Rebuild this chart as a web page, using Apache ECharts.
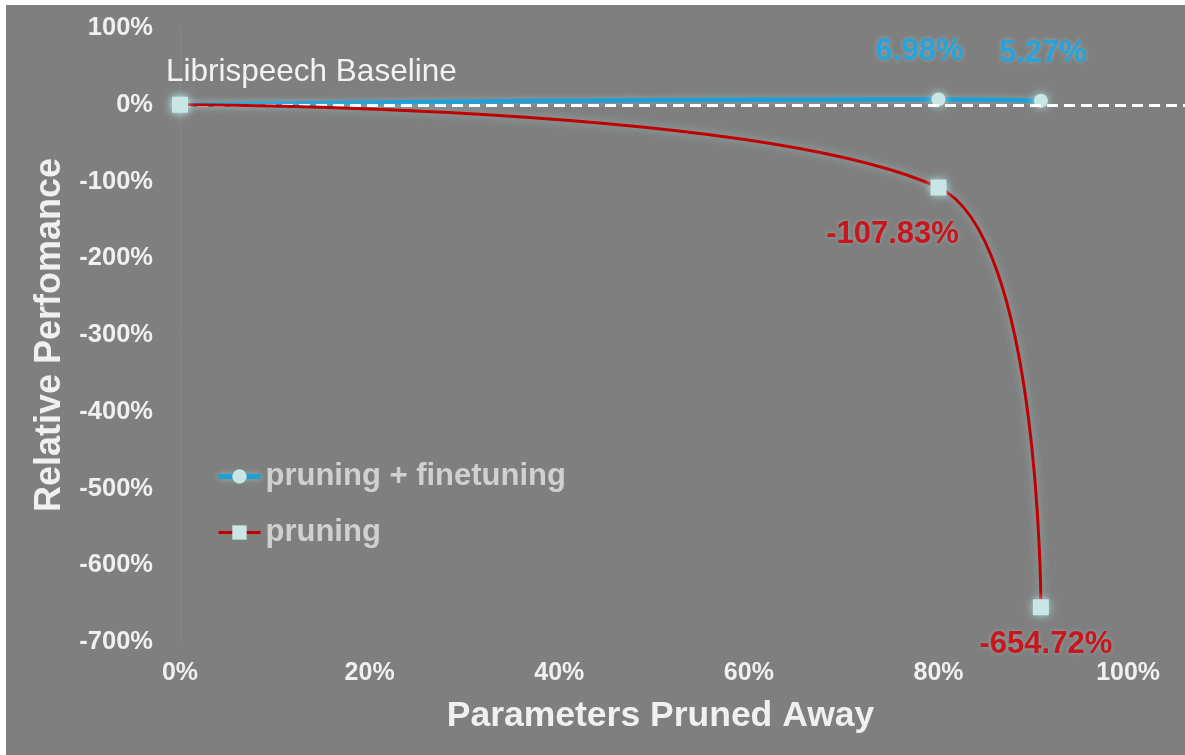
<!DOCTYPE html>
<html>
<head>
<meta charset="utf-8">
<script src="https://cdn.jsdelivr.net/npm/echarts@6/dist/echarts.min.js"></script>
<style>
  html, body { margin: 0; padding: 0; background: #ffffff; width: 1185px; height: 755px; overflow: hidden; }
  #chart { position: absolute; left: 6px; top: 5px; width: 1179px; height: 750px; background: #7f7f7f; }
</style>
</head>
<body>
<div id="chart"></div>
<script>
// Share of parameters pruned away (x) and relative performance (y)
const prunedShare = [0, 0.8, 0.908];
const finetuneValues = [0, 0.0698, 0.0527];
const pruningValues = [0, -1.0783, -6.5472];
const xTicks = [0, 0.2, 0.4, 0.6, 0.8, 1.0];
const yTicks = [1, 0, -1, -2, -3, -4, -5, -6, -7];
const seriesNames = ['pruning + finetuning', 'pruning'];
const baselineLabel = 'Librispeech Baseline';

const FONT = '"Liberation Sans", Arial, sans-serif';
const pct = v => Math.round(v * 100) + '%';
const pct2 = v => (v * 100).toFixed(2) + '%';

const BLUE = '#1f9fd8';
const RED = '#c00000';
const MARK = '#c8e6e4';

const glowLine = { shadowBlur: 8, shadowColor: 'rgba(190,240,240,0.5)' };
const glowMark = { shadowBlur: 10, shadowColor: 'rgba(190,245,245,0.8)' };

// label styling per point (first point carries no label)
const finetuneLabelOffsets = [null, [-19, 0], [2, 0]];
const pruningLabel = [
  null,
  { position: 'bottom', distance: 23, offset: [-46, 0] },
  { position: 'bottom', distance: 14, offset: [5, 0] }
];

const finetuneData = prunedShare.map((x, i) => {
  const item = { value: [x, finetuneValues[i]] };
  if (finetuneLabelOffsets[i]) {
    item.label = {
      show: true, position: 'top', distance: 25, offset: finetuneLabelOffsets[i],
      formatter: () => pct2(finetuneValues[i]),
      color: '#27a2da', fontFamily: FONT, fontSize: 31, fontWeight: 'bold',
      textShadowBlur: 4, textShadowColor: 'rgba(200,240,240,0.35)'
    };
  }
  return item;
});

const pruningData = prunedShare.map((x, i) => {
  const item = { value: [x, pruningValues[i]] };
  if (pruningLabel[i]) {
    item.label = Object.assign({
      show: true,
      formatter: () => pct2(pruningValues[i]),
      color: '#c8161e', fontFamily: FONT, fontSize: 31, fontWeight: 'bold',
      textShadowBlur: 4, textShadowColor: 'rgba(200,240,240,0.35)'
    }, pruningLabel[i]);
  }
  return item;
});

const chart = echarts.init(document.getElementById('chart'), null, { renderer: 'canvas' });

chart.setOption({
  backgroundColor: '#7f7f7f',
  animation: false,
  grid: { left: 174, right: 0, top: 23, bottom: 113, containLabel: false },
  legend: {
    orient: 'vertical',
    left: 210,
    top: 456,
    padding: 0,
    itemGap: 25,
    itemWidth: 42,
    itemHeight: 18,
    data: [
      {
        name: seriesNames[0],
        lineStyle: { color: BLUE, width: 5, shadowBlur: 6, shadowColor: 'rgba(190,240,240,0.5)' },
        itemStyle: { color: MARK }
      },
      {
        name: seriesNames[1],
        lineStyle: { color: RED, width: 3 },
        itemStyle: { color: MARK }
      }
    ],
    textStyle: { color: '#d0d0d0', fontFamily: FONT, fontSize: 31, fontWeight: 'bold' }
  },
  xAxis: {
    type: 'value',
    min: 0,
    max: 1.06,
    interval: 0.2,
    name: 'Parameters Pruned Away',
    nameLocation: 'middle',
    nameGap: 56,
    nameTextStyle: { color: '#f0f0f0', fontFamily: FONT, fontSize: 35.5, fontWeight: 'bold', padding: [0, 44, 0, 0] },
    axisLine: { show: false },
    axisTick: { show: false },
    splitLine: { show: false },
    axisLabel: {
      showMaxLabel: false,
      margin: 19,
      color: '#f0f0f0', fontFamily: FONT, fontSize: 25, fontWeight: 'bold',
      formatter: v => (xTicks.some(t => Math.abs(t - v) < 1e-6) ? pct(v) : '')
    }
  },
  yAxis: {
    type: 'value',
    min: -7,
    max: 1,
    interval: 1,
    name: 'Relative Perfomance',
    nameLocation: 'middle',
    nameGap: 106,
    nameRotate: 90,
    nameTextStyle: { color: '#f0f0f0', fontFamily: FONT, fontSize: 36, fontWeight: 'bold' },
    axisLine: { show: true, lineStyle: { color: '#888888', width: 1 } },
    axisTick: { show: false },
    splitLine: { show: false },
    axisLabel: {
      margin: 27,
      color: '#f0f0f0', fontFamily: FONT, fontSize: 25.5, fontWeight: 'bold',
      formatter: v => (yTicks.indexOf(Math.round(v)) >= 0 ? pct(v) : '')
    }
  },
  series: [
    {
      name: seriesNames[0],
      type: 'line',
      smooth: 0.5,
      symbol: 'circle',
      symbolSize: 14,
      z: 3,
      lineStyle: { color: BLUE, width: 4.5, shadowBlur: 6, shadowColor: 'rgba(190,240,240,0.35)' },
      itemStyle: Object.assign({ color: MARK, borderWidth: 0 }, glowMark),
      data: finetuneData,
      markLine: {
        silent: true,
        symbol: 'none',
        z: 4,
        lineStyle: { color: '#ffffff', type: [11, 6], width: 3, shadowBlur: 0 },
        label: {
          show: true,
          position: 'insideStartTop',
          distance: [-14, 16],
          formatter: baselineLabel,
          color: '#f2f2f2', fontFamily: FONT, fontSize: 31.5, fontWeight: 'normal'
        },
        emphasis: { disabled: true },
        data: [{ yAxis: 0 }]
      }
    },
    {
      name: seriesNames[1],
      type: 'line',
      smooth: 0.6,
      symbol: 'rect',
      symbolSize: 16,
      z: 5,
      lineStyle: Object.assign({ color: RED, width: 3 }, glowLine),
      itemStyle: Object.assign({ color: MARK, borderWidth: 0 }, glowMark),
      data: pruningData
    }
  ]
});
</script>
</body>
</html>
